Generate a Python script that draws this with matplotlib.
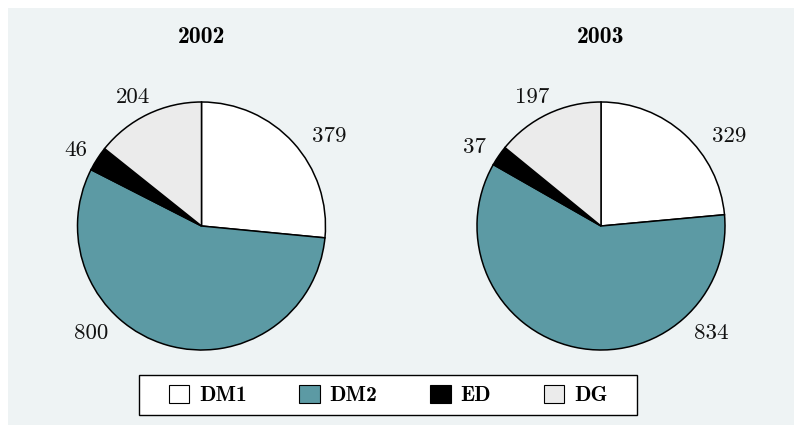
import numpy as np
import matplotlib.pyplot as plt
from matplotlib.patches import Patch, Rectangle

categories = ['DM1', 'DM2', 'ED', 'DG']
years = ['2002', '2003']
counts_2002 = [379, 800, 46, 204]
counts_2003 = [329, 834, 37, 197]

colors = ['#ffffff', '#5c9aa4', '#000000', '#ebebeb']
# where each number sits around its pie (degrees ccw from 3 o'clock, distance in radii)
label_angles = {'2002': [35, -136, 149, 118], '2003': [35, -44, 148, 118]}
label_dist = {'2002': [1.26, 1.24, 1.18, 1.18], '2003': [1.26, 1.24, 1.20, 1.18]}

W, H = 794, 425
fig = plt.figure(figsize=(W / 100, H / 100), dpi=100, facecolor='white')
fig.patches.append(Rectangle((8 / W, 0), 1 - 8 / W, 1 - 8 / H, transform=fig.transFigure,
                             facecolor='#eef3f4', edgecolor='none', zorder=-10))

R = 124      # pie radius in px
L = 180      # half-size of each axes in px
centers = [(201.5, 226), (601, 226)]

for year, vals, (cx, cy) in zip(years, [counts_2002, counts_2003], centers):
    ax = fig.add_axes([(cx - L) / W, (H - cy - L) / H, 2 * L / W, 2 * L / H])
    ax.pie(vals, colors=colors, startangle=90, counterclock=False, radius=1,
           wedgeprops=dict(edgecolor='black', linewidth=1.1))
    ax.set_xlim(-L / R, L / R)
    ax.set_ylim(-L / R, L / R)
    ax.axis('off')
    for v, a, d in zip(vals, label_angles[year], label_dist[year]):
        t = np.deg2rad(a)
        ax.text(d * np.cos(t), d * np.sin(t), str(v), ha='center', va='center',
                family='cmr10', fontsize=16.5, color='#111111')
    fig.text(cx / W, 1 - 37 / H, year, ha='center', va='center',
             family='cmb10', fontsize=17)

# legend frame (wider side padding than matplotlib's uniform borderpad)
fig.patches.append(Rectangle((139 / W, 1 - 415 / H), 498 / W, 40 / H, transform=fig.transFigure,
                             facecolor='white', edgecolor='black', linewidth=1.0, zorder=1))
handles = [Patch(facecolor=c, edgecolor='black', linewidth=0.8) for c in colors]
leg = fig.legend(handles, categories, loc='center', bbox_to_anchor=(388 / W, 1 - 395 / H),
                 ncol=4, frameon=False,
                 handlelength=0.95, handleheight=0.95, handletextpad=0.45,
                 columnspacing=2.45, borderpad=0.4,
                 prop={'family': 'cmb10', 'size': 15.5})
leg.set_zorder(5)

fig.savefig('out.png', dpi=100)
